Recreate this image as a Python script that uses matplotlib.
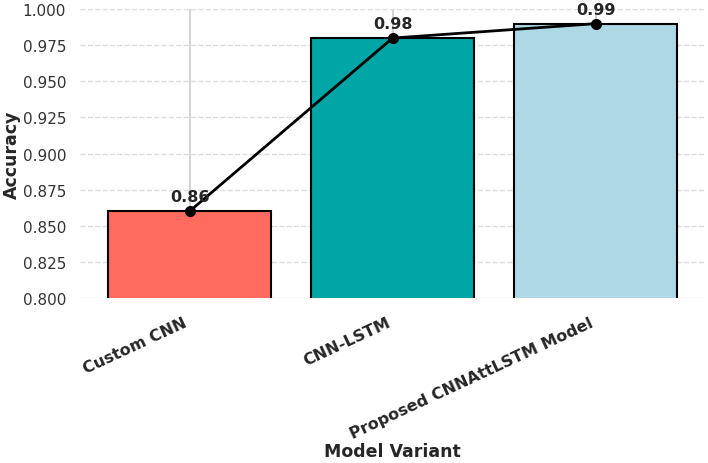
import matplotlib
matplotlib.use("Agg")
import matplotlib.pyplot as plt
import seaborn as sns

models = ["Custom CNN", "CNN-LSTM", "Proposed CNNAttLSTM Model"]
accuracy = [0.86, 0.98, 0.99]
colors = ["#ff6b5e", "#00a5a5", "#add8e6"]
yticks = [0.8, 0.825, 0.85, 0.875, 0.9, 0.925, 0.95, 0.975, 1.0]

sns.set_style("whitegrid")
plt.rcParams['font.family'] = ['DejaVu Sans']

fig, ax = plt.subplots(figsize=(7.08, 4.64), dpi=100)
fig.subplots_adjust(left=0.113, right=0.996, top=0.978, bottom=0.356)

x = range(len(models))
ax.bar(x, accuracy, color=colors, edgecolor="black", linewidth=1.5, zorder=2)
ax.plot(x, accuracy, color="black", marker="o", markersize=7, linewidth=2, zorder=3)

# value labels above the points
for xi, v in zip(x, accuracy):
    ax.annotate(f"{v:.2f}", (xi, v), xytext=(0, 5), textcoords="offset points",
                ha="center", va="bottom", fontsize=11.5, fontweight="bold", color="#262626")

ax.set_ylim(0.8, 1.0)
ax.set_yticks(yticks)
ax.set_yticklabels([f"{t:.3f}" for t in yticks], fontsize=11, color="#333333")
ax.set_xticks(list(x))
ax.set_xticklabels(models, rotation=25, ha="right", fontsize=11.5, fontweight="bold", color="#262626")

ax.xaxis.grid(True, color="#cccccc", linewidth=1.2, zorder=0)
ax.yaxis.grid(True, linestyle="--", color="#dddddd", linewidth=1, zorder=0)
ax.set_axisbelow(True)
for s in ax.spines.values():
    s.set_visible(False)
ax.tick_params(axis="y", length=0, pad=10)
ax.tick_params(axis="x", length=0, pad=12)

ax.set_xlabel("Model Variant", fontsize=12.5, fontweight="bold", color="#262626", labelpad=1)
ax.set_ylabel("Accuracy", fontsize=12.5, fontweight="bold", color="#262626", labelpad=1)

fig.savefig("out.png", dpi=100)
